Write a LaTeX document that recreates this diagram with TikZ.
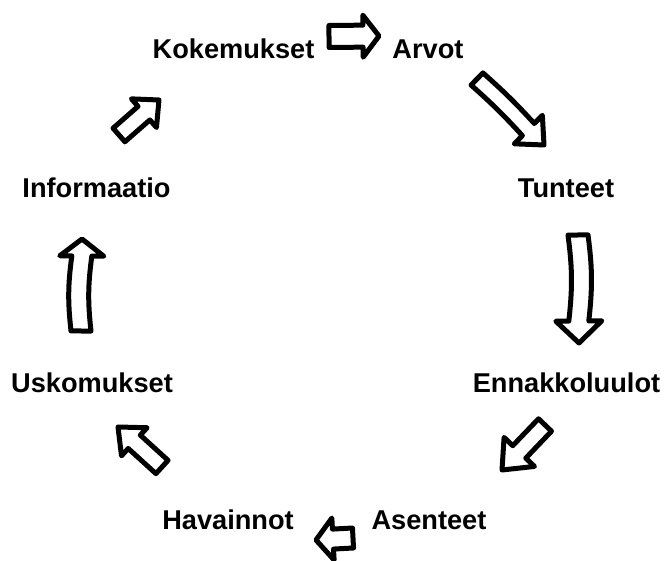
\documentclass[tikz,border=0pt]{standalone}
\usepackage{fontspec}
\setmainfont{Liberation Sans}
\usetikzlibrary{calc}

% hollow block arrow: [shaft bend], tail coordinate, tip coordinate,
% shaft half-width, head half-width, head length (pt)
\newcommand{\blockarr}[6][0]{%
  \coordinate (hb) at ($(#3)!#6pt!(#2)$);
  \draw[blockline]
    ($(#2)!#4pt!90:(#3)$) to[bend left=#1] ($(hb)!#4pt!-90:(#2)$) -- ($(hb)!#5pt!-90:(#2)$) -- (#3)
    -- ($(hb)!#5pt!90:(#2)$) -- ($(hb)!#4pt!90:(#2)$) to[bend right=#1] ($(#2)!#4pt!-90:(#3)$) -- cycle;
}

\begin{document}
\begin{tikzpicture}[x=1pt,y=-1pt,
  lbl/.style={font=\fontsize{27.2}{32}\selectfont\bfseries, anchor=base, inner sep=0pt},
  blockline/.style={line width=5pt, line join=round, fill=white}]
\useasboundingbox[fill=white] (0,0) rectangle (665,561);

% labels round the cycle
\node[lbl] (kok) at (233.5,59) {Kokemukset};
\node[lbl] (arv) at (428,59) {Arvot};
\node[lbl] (tun) at (566,198) {Tunteet};
\node[lbl] (enn) at (566.5,393) {Ennakkoluulot};
\node[lbl] (ase) at (429,530) {Asenteet};
\node[lbl] (hav) at (228,530) {Havainnot};
\node[lbl] (usk) at (92,393) {Uskomukset};
\node[lbl] (inf) at (96.5,198) {Informaatio};

% arrow end points
\coordinate (a1t) at (329,36.5);  \coordinate (a1h) at (379,36);
\coordinate (a2t) at (477,79);    \coordinate (a2h) at (544,145);
\coordinate (a3t) at (578,235);   \coordinate (a3h) at (579,343);
\coordinate (a4t) at (545,425);   \coordinate (a4h) at (502,470);
\coordinate (a5t) at (353,538);   \coordinate (a5h) at (316,540);
\coordinate (a6t) at (162,467);   \coordinate (a6h) at (118,427);
\coordinate (a7t) at (81,331);    \coordinate (a7h) at (82,239);
\coordinate (a8t) at (119,135);   \coordinate (a8h) at (159,100);

\blockarr{a1t}{a1h}{11}{21}{16}
\blockarr[3]{a2t}{a2h}{8.5}{20}{22}
\blockarr[7]{a3t}{a3h}{10}{23}{22}
\blockarr{a4t}{a4h}{9}{21}{25}
\blockarr{a5t}{a5h}{10}{21}{17}
\blockarr{a6t}{a6h}{9}{19}{22}
\blockarr[7]{a7t}{a7h}{10}{22}{17}
\blockarr{a8t}{a8h}{9}{19}{20}
\end{tikzpicture}
\end{document}
